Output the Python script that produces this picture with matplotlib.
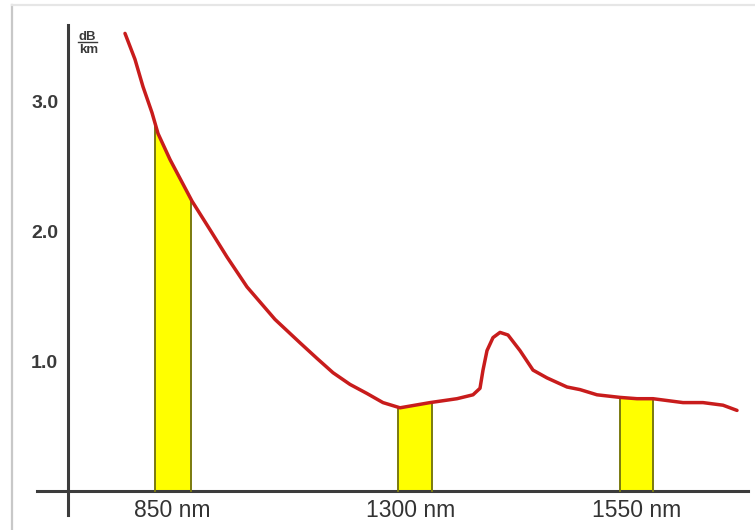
import numpy as np
import matplotlib
matplotlib.use("Agg")
import matplotlib.pyplot as plt
from matplotlib.lines import Line2D

# ---- data (schematic attenuation curve of optical fibre) ----
# x: schematic position along the wavelength axis (not linear in nm)
curve_x = [57, 67, 75, 84, 90, 102, 113, 124, 142, 159, 179, 207, 232, 249, 265, 282,
           299, 315, 332, 362, 389, 405, 412, 415, 419, 425, 432, 440, 452, 465, 479, 499,
           512, 529, 552, 569, 585, 615, 635, 655, 669]
# attenuation in dB/km
curve_y = [3.52, 3.32, 3.11, 2.91, 2.75, 2.55, 2.39, 2.23, 2.01, 1.80, 1.57, 1.32, 1.14, 1.02, 0.91, 0.82,
           0.75, 0.68, 0.64, 0.68, 0.71, 0.74, 0.79, 0.93, 1.08, 1.18, 1.22, 1.20, 1.08, 0.93, 0.87, 0.80,
           0.78, 0.74, 0.72, 0.71, 0.71, 0.68, 0.68, 0.66, 0.62]

band_labels = ["850 nm", "1300 nm", "1550 nm"]
band_left = [87, 330, 552]
band_right = [123, 364, 585]
band_label_pos = [104, 343, 569]

ytick_vals = [1.0, 2.0, 3.0]
ytick_labels = ["1.0", "2.0", "3.0"]

# ---- figure ----
W, H = 755, 530
fig = plt.figure(figsize=(W / 100, H / 100), dpi=100)
fig.patch.set_facecolor("white")

def fx(px):
    return px / W

def fy(py):
    return 1 - py / H

# light frame of the original picture
fig.add_artist(Line2D([fx(12), fx(12)], [fy(5), -0.1], transform=fig.transFigure,
                      color="#c8c8c8", lw=1.6))
fig.add_artist(Line2D([fx(12), 1.1], [fy(5), fy(5)], transform=fig.transFigure,
                      color="#e6e6e6", lw=1.6))

x0_px, x1_px = 37, 748
y_top_px, y_bot_px = 25, 515
ax = fig.add_axes([fx(x0_px), fy(y_bot_px), (x1_px - x0_px) / W, (y_bot_px - y_top_px) / H])
ax.set_facecolor("none")

origin_x_px, origin_y_px = 68, 491
yscale = 130.0
ax.set_xlim(x0_px - origin_x_px, x1_px - origin_x_px)
ax.set_ylim((origin_y_px - y_bot_px) / yscale, (origin_y_px - y_top_px) / yscale)

for s in ["top", "right"]:
    ax.spines[s].set_visible(False)
ax.spines["left"].set_position(("data", 0))
ax.spines["bottom"].set_position(("data", 0))
for s in ["left", "bottom"]:
    ax.spines[s].set_color("#3c3c3c")
    ax.spines[s].set_linewidth(2.2)

cx = np.array(curve_x, dtype=float)
cy = np.array(curve_y, dtype=float)

# yellow bands under the curve
for lft, rgt in zip(band_left, band_right):
    xs = np.linspace(lft, rgt, 20)
    ys = np.interp(xs, cx, cy)
    ax.fill_between(xs, 0, ys, facecolor="#ffff00", edgecolor="none", zorder=2)
    ax.plot([lft, lft], [0, ys[0]], color="#7a7a10", lw=1.4, zorder=3)
    ax.plot([rgt, rgt], [0, ys[-1]], color="#7a7a10", lw=1.4, zorder=3)

# attenuation curve
ax.plot(cx, cy, color="#c81c1c", lw=2.5, solid_capstyle="round",
        solid_joinstyle="round", zorder=4)

# ticks
ax.set_yticks(ytick_vals)
ax.set_yticklabels(ytick_labels, fontsize=14, fontweight="bold", color="#3a3a3a",
                   family="Liberation Sans")
ax.set_xticks(band_label_pos)
ax.set_xticklabels(band_labels, fontsize=16.5, color="#333333", family="Liberation Sans")
ax.tick_params(axis="both", length=0)
ax.tick_params(axis="y", pad=7)
ax.tick_params(axis="x", pad=6)

# unit label dB / km
fig.text(fx(87), fy(40), "dB", ha="center", va="baseline", fontsize=9.5,
         fontweight="bold", color="#3a3a3a", family="Liberation Sans")
fig.add_artist(Line2D([fx(78), fx(97)], [fy(42), fy(42)], transform=fig.transFigure,
                      color="#3a3a3a", lw=1.0))
fig.text(fx(89), fy(53), "km", ha="center", va="baseline", fontsize=9.5,
         fontweight="bold", color="#3a3a3a", family="Liberation Sans")

fig.savefig("out.png", dpi=100, facecolor="white")
